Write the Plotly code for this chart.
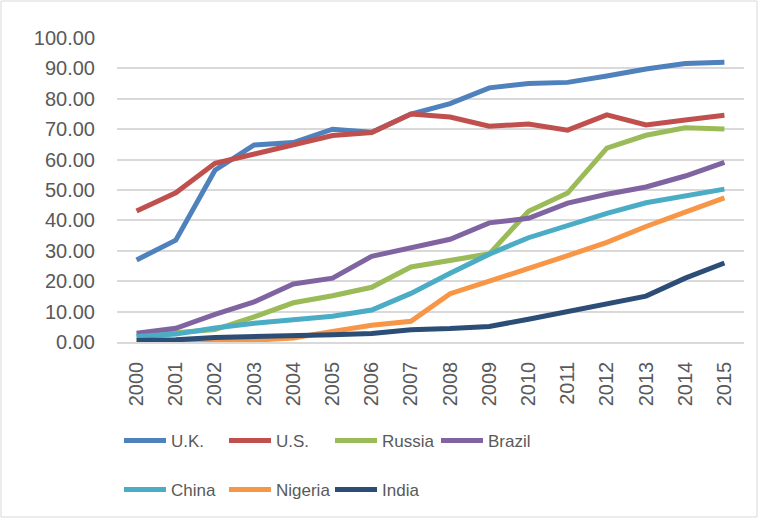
import plotly.graph_objects as go

years = [str(y) for y in range(2000, 2016)]

uk = [27.0, 33.5, 56.5, 64.8, 65.6, 70.0, 69.0, 75.0, 78.4, 83.6, 85.0, 85.4, 87.5, 89.8, 91.6, 92.0]
us = [43.1, 49.1, 58.8, 61.7, 64.8, 67.9, 68.9, 75.0, 74.0, 71.0, 71.7, 69.7, 74.7, 71.4, 73.0, 74.6]
russia = [2.0, 2.9, 4.1, 8.3, 12.9, 15.2, 18.0, 24.7, 26.8, 29.0, 43.0, 49.0, 63.8, 68.0, 70.5, 70.1]
brazil = [2.9, 4.5, 9.1, 13.2, 19.1, 21.0, 28.2, 30.9, 33.8, 39.2, 40.7, 45.7, 48.6, 51.0, 54.6, 59.1]
china = [1.8, 2.6, 4.6, 6.2, 7.3, 8.5, 10.5, 16.0, 22.6, 28.9, 34.3, 38.3, 42.3, 45.8, 47.9, 50.3]
nigeria = [0.1, 0.1, 0.3, 0.6, 1.3, 3.5, 5.5, 6.8, 15.9, 20.0, 24.0, 28.4, 32.8, 38.0, 42.7, 47.4]
india = [0.5, 0.7, 1.5, 1.7, 2.0, 2.4, 2.8, 4.0, 4.4, 5.1, 7.5, 10.1, 12.6, 15.1, 21.0, 26.0]

names = ["U.K.", "U.S.", "Russia", "Brazil", "China", "Nigeria", "India"]
values = [uk, us, russia, brazil, china, nigeria, india]
colors = ["#4F81BD", "#C0504D", "#9BBB59", "#8064A2", "#4BACC6", "#F79646", "#2C4D75"]

FONT = "Liberation Sans, Arial, sans-serif"
TXT = "#595959"

# plot area in pixels
L, R, T, B = 117, 744, 38, 342
W, H = R - L, B - T


def px(x):
    return (x - L) / W


def py(y):
    return (B - y) / H


# legend entry positions (pixels): line start x, row centre y
legend_pos = [(125, 441), (230, 441), (336, 441), (442, 441),
              (125, 490), (230, 490), (336, 490)]

fig = go.Figure()
layout_legends = {}
for i, (name, vals, color) in enumerate(zip(names, values, colors)):
    key = "legend" if i == 0 else f"legend{i + 1}"
    fig.add_trace(go.Scatter(x=years, y=vals, name=name, mode="lines",
                             line=dict(color=color, width=5),
                             legend=key, showlegend=True))
    lx, ly = legend_pos[i]
    layout_legends[key] = dict(
        x=px(lx - 6), y=py(ly), xanchor="left", yanchor="middle",
        orientation="h", itemwidth=42,
        font=dict(family=FONT, size=17, color=TXT),
        bgcolor="rgba(0,0,0,0)")

fig.update_layout(
    width=760, height=520,
    showlegend=True,
    margin=dict(l=L, r=760 - R, t=T, b=520 - B),
    paper_bgcolor="white", plot_bgcolor="white",
    font=dict(family=FONT, size=20, color=TXT),
    xaxis=dict(type="category", range=[-0.5, 15.5], tickangle=-90,
               showgrid=False, showline=True, linecolor="#D9D9D9", linewidth=1.5,
               ticks="outside", ticklen=10, tickcolor="rgba(0,0,0,0)",
               tickfont=dict(family=FONT, size=20, color=TXT), automargin=False),
    yaxis=dict(range=[0, 100], dtick=10, tickformat=".2f",
               showgrid=True, gridcolor="#D9D9D9", gridwidth=1.5,
               zeroline=False, showline=False,
               ticks="outside", ticklen=17, tickcolor="rgba(0,0,0,0)",
               tickfont=dict(family=FONT, size=20, color=TXT), automargin=False),
    shapes=[dict(type="rect", xref="paper", yref="paper",
                 x0=px(1), x1=px(757), y0=py(517), y1=py(1),
                 line=dict(color="#D9D9D9", width=1), layer="below")],
    **layout_legends,
)

fig.write_html("out.html", config={"displayModeBar": False},
               post_script="document.body.style.margin='0';")
